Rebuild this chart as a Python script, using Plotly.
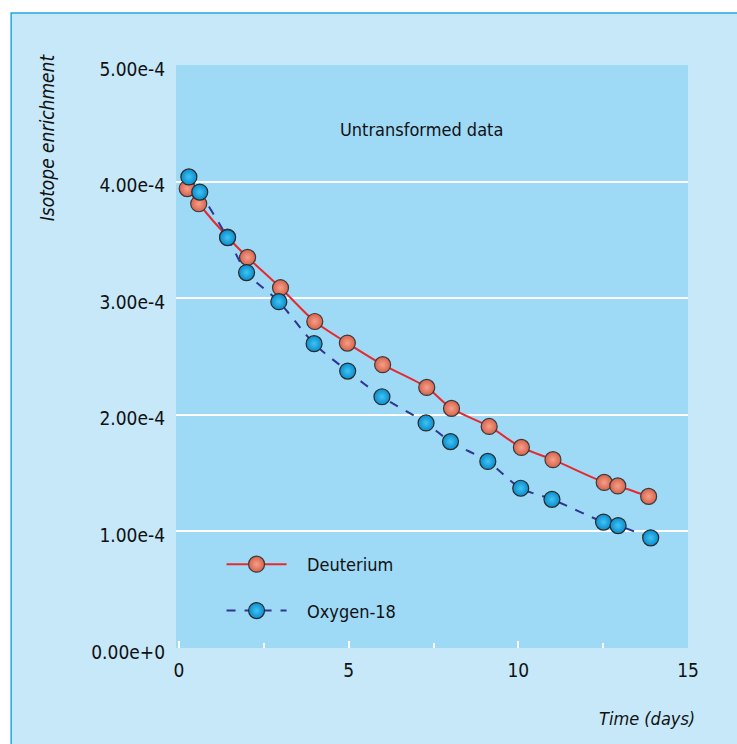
import plotly.graph_objects as go

# ---- data ----
deut_time = [0.24, 0.58, 1.43, 2.02, 2.99, 4.00, 4.96, 6.00, 7.30, 8.03, 9.14, 10.09, 11.02, 12.53, 12.93, 13.84]
deut_vals = [3.94e-4, 3.81e-4, 3.525e-4, 3.35e-4, 3.09e-4, 2.80e-4, 2.615e-4, 2.43e-4, 2.235e-4, 2.055e-4,
             1.90e-4, 1.72e-4, 1.615e-4, 1.42e-4, 1.39e-4, 1.30e-4]
oxy_time = [0.29, 0.61, 1.43, 1.99, 2.94, 3.98, 4.97, 5.98, 7.28, 8.00, 9.10, 10.07, 10.99, 12.51, 12.94, 13.90]
oxy_vals = [4.04e-4, 3.91e-4, 3.52e-4, 3.22e-4, 2.97e-4, 2.61e-4, 2.375e-4, 2.155e-4, 1.93e-4, 1.77e-4,
            1.60e-4, 1.37e-4, 1.275e-4, 1.08e-4, 1.05e-4, 0.945e-4]
y_tickvals = [0, 1e-4, 2e-4, 3e-4, 4e-4, 5e-4]
y_ticktext = ["0.00e+0", "1.00e-4", "2.00e-4", "3.00e-4", "4.00e-4", "5.00e-4"]
x_tickvals = [0, 5, 10, 15]
x_minor_ticks = [2.5, 7.5, 12.5]

FONT = "DejaVu Sans Condensed, Liberation Sans Narrow, Roboto, sans-serif"
OUTER_BG = "#c6e8f9"
PLOT_BG = "#9ed9f6"
NB = "\u00a0"

fig = go.Figure()

fig.add_trace(go.Scatter(
    x=deut_time, y=deut_vals, mode="lines+markers", name=NB * 3 + "Deuterium",
    legendgroup="d",
    line=dict(color="#e8282c", width=2, shape="spline", smoothing=0.8),
    marker=dict(size=16, color="#d8624b", line=dict(color="#3a3a3a", width=1.2),
                gradient=dict(type="radial", color="#f4a08a")),
))
fig.add_trace(go.Scatter(
    x=oxy_time, y=oxy_vals, mode="lines+markers", name=NB * 3 + "Oxygen-18",
    legendgroup="o",
    line=dict(color="#2e3592", width=2, dash="dash", shape="spline", smoothing=0.8),
    marker=dict(size=16, color="#0a8ccc", line=dict(color="#2a2a2a", width=1.2),
                gradient=dict(type="radial", color="#40c4f4")),
))

fig.update_layout(
    width=737, height=744,
    margin=dict(l=176, r=49, t=65, b=96),
    paper_bgcolor="white",
    plot_bgcolor="rgba(0,0,0,0)",
    font=dict(family=FONT, size=18, color="#111111"),
    showlegend=True,
    legend=dict(x=0.089, y=0.175, xanchor="left", yanchor="top",
                bgcolor="rgba(0,0,0,0)", font=dict(size=18),
                tracegroupgap=20, itemwidth=60),
    shapes=[
        dict(type="rect", xref="paper", yref="paper", x0=-0.322, x1=1.2, y0=-0.3, y1=1.089,
             fillcolor=OUTER_BG, line=dict(color="#22a6e0", width=1.5), layer="below"),
        dict(type="rect", xref="paper", yref="paper", x0=0, x1=1, y0=0, y1=1,
             fillcolor=PLOT_BG, line=dict(width=0), layer="below"),
    ],
    annotations=[
        dict(text="Untransformed data", xref="paper", yref="paper", x=0.48, y=0.889,
             xanchor="center", yanchor="middle",
             showarrow=False, font=dict(size=18, family=FONT)),
        dict(text="Isotope enrichment", xref="paper", yref="paper", x=-0.252, y=0.876,
             xanchor="center", yanchor="middle",
             textangle=-90, showarrow=False, font=dict(size=19, family=FONT, style="italic")),
        dict(text="Time (days)", xref="paper", yref="paper", x=1.018, y=-0.1206,
             xanchor="right", yanchor="middle", showarrow=False,
             font=dict(size=18, family=FONT, style="italic")),
    ],
)

fig.update_xaxes(
    range=[-0.09, 15], tickvals=x_tickvals, showgrid=False, zeroline=False, showline=False,
    ticks="inside", ticklen=7, tickwidth=2, tickcolor="white", ticklabelstandoff=9,
    tickfont=dict(size=19),
    minor=dict(ticks="inside", ticklen=5, tickwidth=2, tickcolor="white",
               tickvals=x_minor_ticks, showgrid=False),
)
fig.update_yaxes(
    range=[0, 5e-4], tickvals=y_tickvals, ticktext=y_ticktext, showgrid=True, gridcolor="white",
    gridwidth=2, zeroline=False, showline=False, ticks="", ticklabelstandoff=10,
    ticklabelshift=4, tickfont=dict(size=19),
)

fig.write_html(
    "out.html",
    config={"displayModeBar": False},
    post_script="document.body.style.margin='0';document.body.style.overflow='hidden';",
)
